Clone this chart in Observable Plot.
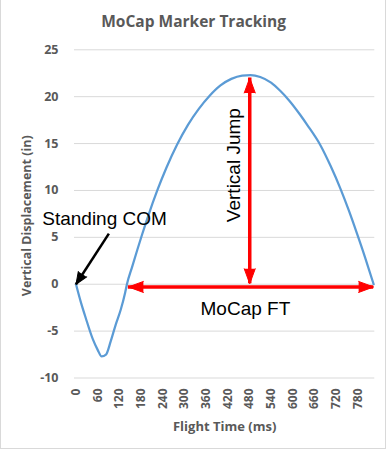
<!DOCTYPE html>
<html><head><meta charset="utf-8">
<script src="https://cdn.jsdelivr.net/npm/d3@7"></script>
<script src="https://cdn.jsdelivr.net/npm/@observablehq/plot@0.6"></script>
<style>
html,body{margin:0;padding:0;background:#fff;}
#chart{position:relative;width:387px;height:450px;overflow:hidden;}
#chart svg{position:absolute;left:0;top:0;}
#border{position:absolute;left:0;top:-2px;width:386px;height:451px;box-sizing:border-box;border:1px solid #d9d9d9;pointer-events:none;}
</style></head><body>
<div id="chart"><div id="border"></div></div>
<script>
// Data
const timeMs = [0, 13, 27, 46, 60, 71, 83, 96, 110, 124, 136, 141, 155, 170, 183, 200, 225, 250, 280, 310, 340, 370, 400, 430, 460, 483, 510, 540, 566, 590, 620, 640, 677, 705, 732, 755, 778, 800, 824];
const displacementIn = [0, -1.85, -3.6, -5.8, -7.0, -7.7, -7.5, -6.1, -4.3, -2.7, -0.9, 0, 1.8, 3.7, 5.3, 7.3, 10.0, 12.4, 14.9, 17.0, 18.7, 20.1, 21.2, 21.9, 22.25, 22.3, 22.1, 21.5, 20.6, 19.6, 18.1, 17.0, 14.8, 12.6, 10.2, 7.9, 5.4, 2.9, 0];
const xTicks = [0, 60, 120, 180, 240, 300, 360, 420, 480, 540, 600, 660, 720, 780];
const yTicks = [-10, -5, 0, 5, 10, 15, 20, 25];

const titleText = "MoCap Marker Tracking";
const xLabel = "Flight Time (ms)";
const yLabel = "Vertical Displacement (in)";

// Annotations (data units)
const comLabel = {x: 79, y: 7.0, text: "Standing COM"};
const comArrow = {x1: 91, y1: 5.4, x2: 0, y2: 0};
const jumpArrow = {x: 481, y1: 0.05, y2: 22.0};
const jumpLabel = {x: 437, y: 12.7, text: "Vertical Jump"};
const ftArrow = {y: -0.29, x1: 145, x2: 824};
const ftLabel = {x: 469, y: -2.6, text: "MoCap FT"};

const xOpts = {domain: [0, 825], range: [75.5, 373.5]};
const yOpts = {domain: [-10, 25], range: [377.5, 49.3]};
const sx = Plot.scale({x: xOpts});
const sy = Plot.scale({y: yOpts});
function angle(x1, y1, x2, y2) {
  const dx = sx.apply(x2) - sx.apply(x1);
  const dy = sy.apply(y2) - sy.apply(y1);
  return Math.atan2(dx, -dy) * 180 / Math.PI;
}

const series = timeMs.map((t, i) => ({t, v: displacementIn[i]}));
const RED = "#ff0000";
const GRAY = "#595959";
const AX_FONT = "'Open Sans', 'DejaVu Sans', sans-serif";
const ANN_FONT = "'Liberation Sans', Arial, sans-serif";

const redHeads = [
  {x: jumpArrow.x, y: jumpArrow.y2, r: 0},
  {x: jumpArrow.x, y: jumpArrow.y1, r: 180},
  {x: ftArrow.x2, y: ftArrow.y, r: 90},
  {x: ftArrow.x1, y: ftArrow.y, r: 270}
];
const blackHeads = [{x: comArrow.x2, y: comArrow.y2, r: angle(comArrow.x1, comArrow.y1, comArrow.x2, comArrow.y2)}];

const chart = Plot.plot({
  width: 387,
  height: 450,
  marginLeft: 74,
  marginRight: 12.7,
  marginTop: 49.3,
  marginBottom: 72.5,
  x: xOpts,
  y: yOpts,
  style: {background: "transparent", overflow: "visible"},
  marks: [
    Plot.gridY(yTicks, {stroke: "#d9d9d9", strokeOpacity: 1, strokeWidth: 1}),
    Plot.axisY({ticks: yTicks, tickSize: 0, tickPadding: 16, tickFormat: d => `${d}`, fontSize: 12.5, fontWeight: "bold", fill: GRAY, fontFamily: AX_FONT, label: null}),
    Plot.axisX({ticks: xTicks, tickRotate: -90, tickSize: 0, tickPadding: 10.5, tickFormat: d => `${d}`, fontSize: 12, fontWeight: "bold", fill: GRAY, fontFamily: AX_FONT, label: null}),
    Plot.line(series, {x: "t", y: "v", stroke: "#5B9BD5", strokeWidth: 2.25, curve: "monotone-x"}),
    // red arrows
    Plot.ruleX([jumpArrow], {x: "x", y1: "y1", y2: "y2", stroke: RED, strokeWidth: 3.5}),
    Plot.ruleY([ftArrow], {y: "y", x1: "x1", x2: "x2", stroke: RED, strokeWidth: 3.5}),
    Plot.vector(redHeads, {x: "x", y: "y", rotate: "r", shape: "spike", anchor: "end", length: 15, r: 5.5, fill: RED, stroke: RED, strokeWidth: 1}),
    // black arrow
    Plot.link([comArrow], {x1: "x1", y1: "y1", x2: "x2", y2: "y2", stroke: "black", strokeWidth: 2.5}),
    Plot.vector(blackHeads, {x: "x", y: "y", rotate: "r", shape: "spike", anchor: "end", length: 12, r: 5, fill: "black", stroke: "black", strokeWidth: 1}),
    // annotation texts
    Plot.text([comLabel, ftLabel], {x: "x", y: "y", text: "text", fontSize: 19, fill: "black", fontFamily: ANN_FONT, textAnchor: "middle", lineAnchor: "middle"}),
    Plot.text([jumpLabel], {x: "x", y: "y", text: "text", rotate: -90, fontSize: 19, fill: "black", fontFamily: ANN_FONT, textAnchor: "middle", lineAnchor: "middle"}),
    // title and axis titles
    Plot.text([titleText], {frameAnchor: "top", dx: -31, dy: -27.5, fontSize: 15.5, fontWeight: "bold", fill: GRAY, fontFamily: AX_FONT, textAnchor: "middle", lineAnchor: "middle"}),
    Plot.text([xLabel], {frameAnchor: "bottom", dy: 49, fontSize: 13, fontWeight: "bold", fill: GRAY, fontFamily: AX_FONT, textAnchor: "middle", lineAnchor: "middle"}),
    Plot.text([yLabel], {x: -137, y: 7.3, rotate: -90, fontSize: 12.5, fontWeight: "bold", fill: GRAY, fontFamily: AX_FONT, textAnchor: "middle", lineAnchor: "middle"})
  ]
});
document.getElementById("chart").prepend(chart);
</script>
</body></html>
